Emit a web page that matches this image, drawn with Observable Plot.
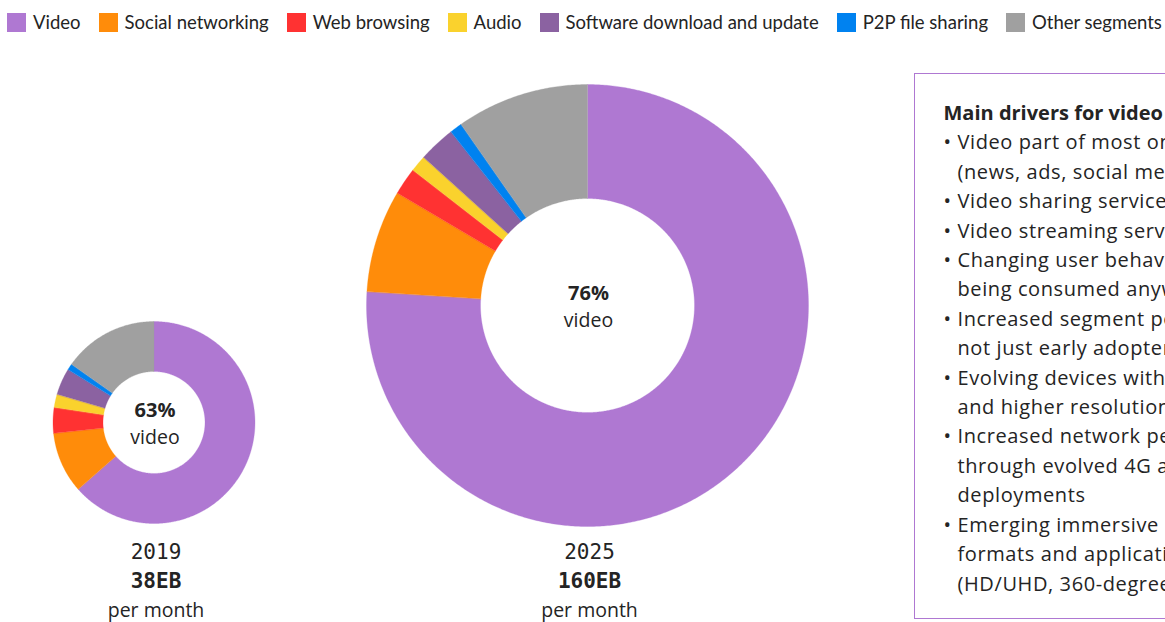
<!DOCTYPE html>
<html><head><meta charset="utf-8">
<script src="https://cdn.jsdelivr.net/npm/d3@7"></script>
<script src="https://cdn.jsdelivr.net/npm/@observablehq/plot@0.6"></script>
<style>
html,body{margin:0;padding:0;background:#fff;overflow:hidden;width:1165px;height:622px;}
body{font-family:Lato,"Noto Sans",sans-serif;color:#242424;position:relative;}
#legend{position:absolute;left:7px;top:13px;display:flex;align-items:center;white-space:nowrap;font-size:18.5px;line-height:19px;}
.item{display:flex;align-items:center;margin-right:18px;}
.sw{width:19px;height:19px;margin-right:7px;flex:none;}
#chart{position:absolute;left:0;top:45px;}
#box{position:absolute;left:914px;top:73px;width:400px;height:546px;border:1.5px solid #AF78D2;box-sizing:border-box;padding:24px 0 0 28.5px;font-family:"Open Sans",sans-serif;font-size:20px;line-height:29.4px;white-space:nowrap;letter-spacing:0.6px;}
#box .t{font-weight:bold;letter-spacing:0;}
#box .b::before{content:"•";display:inline-block;width:14px;letter-spacing:0;}
#box .c{padding-left:14px;}
</style></head>
<body>
<div id="legend"></div>
<div id="chart"></div>
<div id="box"></div>
<script>
const categories = ["Video","Social networking","Web browsing","Audio","Software download and update","P2P file sharing","Other segments"];
const colors = ["#AF78D2","#FF8C0A","#FF3232","#FAD22D","#8B62A1","#0082F0","#A0A0A0"];
const share2019 = [63.5, 9.8, 4.1, 2.1, 4.3, 1.0, 15.2];
const share2025 = [76, 7.5, 2.0, 1.2, 2.7, 0.9, 9.7];
const years = ["2019","2025"];
const totals = ["38EB","160EB"];
const videoLabels = ["63%","76%"];
const boxTitle = "Main drivers for video";
const boxLines = [
  ["b","Video part of most online content"],
  ["c","(news, ads, social media)"],
  ["b","Video sharing services"],
  ["b","Video streaming services"],
  ["b","Changing user behavior, with video"],
  ["c","being consumed anywhere, anytime"],
  ["b","Increased segment penetration,"],
  ["c","not just early adopters"],
  ["b","Evolving devices with larger screens"],
  ["c","and higher resolution"],
  ["b","Increased network performance"],
  ["c","through evolved 4G and 5G"],
  ["c","deployments"],
  ["b","Emerging immersive media"],
  ["c","formats and applications"],
  ["c","(HD/UHD, 360-degree video, AR/VR)"]
];

// legend
const lg = document.getElementById("legend");
categories.forEach((c,i)=>{
  const it = document.createElement("div"); it.className="item";
  const sw = document.createElement("div"); sw.className="sw"; sw.style.background=colors[i];
  const tx = document.createElement("span"); tx.textContent=c;
  it.appendChild(sw); it.appendChild(tx); lg.appendChild(it);
});
// box
const box = document.getElementById("box");
const t = document.createElement("div"); t.className="t"; t.textContent=boxTitle; box.appendChild(t);
boxLines.forEach(([k,s])=>{const d=document.createElement("div"); d.className=k; d.textContent=s; box.appendChild(d);});

// layout (positions only)
const W = 1165, H = 577;
const layout = [{cx:153.5, cy:377, r0:51, r1:101},{cx:587, cy:260, r0:107, r1:221}];
const shares = [share2019, share2025];
const donuts = years.map((year,i)=>({year, total: totals[i], video: videoLabels[i], ...layout[i]}));

const points = [];
donuts.forEach((d,di)=>{
  const arcs = d3.pie().sort(null).value(v=>v)(shares[di]);
  arcs.forEach((a,ci)=>{
    const key = d.year + "-" + ci;
    const n = Math.max(2, Math.ceil((a.endAngle - a.startAngle) / (Math.PI/360)));
    const outer = [], inner = [];
    for (let k=0;k<=n;k++){
      const th = a.startAngle + (a.endAngle - a.startAngle)*k/n;
      outer.push({x: d.cx + d.r1*Math.sin(th), y: d.cy - d.r1*Math.cos(th), cat: categories[ci], key});
      inner.push({x: d.cx + d.r0*Math.sin(th), y: d.cy - d.r0*Math.cos(th), cat: categories[ci], key});
    }
    points.push(...outer, ...inner.reverse());
  });
});

const sans = "'Open Sans', sans-serif";
const mono = "'DejaVu Sans Mono', monospace";
const chart = Plot.plot({
  width: W, height: H, margin: 0,
  style: {background: "transparent", overflow: "visible"},
  x: {domain: [0, W], range: [0, W], axis: null},
  y: {domain: [0, H], range: [0, H], axis: null},
  color: {domain: categories, range: colors},
  marks: [
    Plot.line(points, {x: "x", y: "y", z: "key", fill: "cat", stroke: "cat", strokeWidth: 0.3, curve: "linear-closed"}),
    Plot.text(donuts, {x: d=>d.cx+1, y: d=>d.cy-12, text: "video", fontSize: 20, fontWeight: "bold", fill: "#242424", fontFamily: sans}),
    Plot.text(donuts, {x: d=>d.cx+1, y: d=>d.cy+15, text: ()=>"video", fontSize: 19.5, fill: "#242424", fontFamily: sans, letterSpacing: 0.5}),
    Plot.text(donuts, {x: d=>d.cx+2, y: 507, text: "year", fontSize: 21, fill: "#242424", fontFamily: mono}),
    Plot.text(donuts, {x: d=>d.cx+2, y: 536, text: "total", fontSize: 21, fontWeight: "bold", fill: "#242424", fontFamily: mono}),
    Plot.text(donuts, {x: d=>d.cx+2, y: 565, text: ()=>"per month", fontSize: 19.5, fill: "#242424", fontFamily: sans, letterSpacing: 0.5})
  ]
});
document.getElementById("chart").appendChild(chart);
</script>
</body></html>
